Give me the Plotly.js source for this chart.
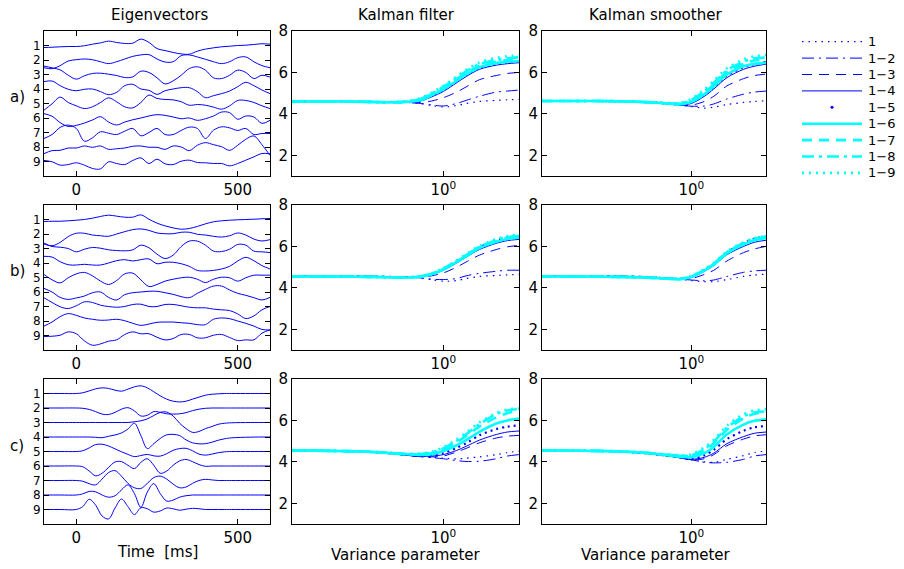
<!DOCTYPE html>
<html>
<head>
<meta charset="utf-8">
<script src="https://cdn.plot.ly/plotly-3.0.1.min.js"></script>
<style>html,body{margin:0;padding:0;background:#fff;}</style>
</head>
<body>
<div id="chart" style="width:904px;height:569px;"></div>
<script>
// ---------------- DATA ----------------
const panelTitles = ['Eigenvectors', 'Kalman filter', 'Kalman smoother'];
const rowLabels = ['a)', 'b)', 'c)'];
const evTickLabels = ['1','2','3','4','5','6','7','8','9'];
const seriesNames = ['1','1\u22122','1\u22123','1\u22124','1\u22125','1\u22126','1\u22127','1\u22128','1\u22129'];

// time axis (ms) for eigenvectors, rows a and b
const evTime = [-100,-75,-50,-25,0,25,50,75,100,125,150,175,200,225,250,275,300,325,350,375,400,425,450,475,500,525,550,575,600];
// time axis (ms) for eigenvectors, row c
const evTimeC = [-100,-50,0,20,40,60,80,100,120,140,160,180,200,220,240,260,280,300,320,340,360,380,400,420,440,460,480,540,600];

// eigenvector deviations from their baseline (units of trace spacing), row a
const evRowA = [
 [-0.14,-0.12,-0.09,-0.07,-0.07,-0.02,0.09,0.18,0.30,0.21,0.14,0.16,0.44,0.21,-0.21,-0.35,-0.48,-0.58,-0.60,-0.39,-0.25,-0.16,-0.09,-0.05,0,0.02,0.07,0.12,0.09],
 [-0.53,-0.60,-0.39,-0.07,0.02,0.07,0.02,-0.12,-0.25,-0.12,0.07,0.25,0.35,0.37,0.07,-0.14,-0.12,0.30,0.35,0.21,0.05,-0.12,-0.25,-0.12,0.16,0.21,-0.12,-0.39,-0.53],
 [0.58,0.46,0.32,-0.05,-0.32,-0.09,0.07,0.09,0.02,-0.07,-0.21,-0.16,0.23,0.14,-0.23,-0.65,-0.44,-0.05,0.41,0.53,0.30,-0.23,-0.28,-0.05,0.30,0.14,-0.28,-0.05,-0.18],
 [0.51,0.55,0.23,-0.02,-0.12,-0.02,0,-0.18,-0.39,-0.23,0.23,0.32,0,-0.09,-0.37,-0.12,0,0.09,0.09,-0.18,-0.60,-0.46,-0.32,-0.14,0.16,0.46,0.23,-0.07,-0.32],
 [-0.46,-0.02,0.44,0.07,-0.16,-0.35,-0.23,0.07,0.39,0.12,-0.23,-0.30,0.07,0.58,0.35,0.28,0.25,0.12,-0.12,-0.07,-0.12,-0.25,-0.39,-0.16,0.21,0.21,0.07,-0.16,-0.35],
 [0.30,0.12,-0.32,-0.58,-0.51,-0.35,-0.14,0.09,-0.28,-0.48,-0.28,-0.12,0,0.14,0.23,0.18,0.07,-0.05,0,-0.16,-0.05,0.14,0.41,0.37,-0.09,0.14,0.07,-0.37,-0.16],
 [-0.41,-0.14,0.35,0.51,0.28,-0.60,-0.37,0.05,-0.05,-0.14,0.09,0.28,-0.23,0,0.28,-0.14,-0.14,0.14,0.37,0.28,-0.41,0.16,0.39,0.32,0.14,0.28,-0.14,-0.07,-0.07],
 [-0.46,-0.25,-0.23,-0.07,-0.07,0.07,-0.02,0.07,-0.16,-0.12,-0.07,0.05,0.07,-0.02,-0.02,-0.16,0.07,0,-0.25,0.12,0.30,0.16,0.02,-0.23,0.12,0.53,0.76,0.16,-0.58],
 [0.07,-0.02,-0.25,-0.21,-0.09,-0.25,-0.48,-0.51,-0.02,-0.14,-0.21,0.07,0.25,-0.14,0.16,-0.16,-0.21,0.02,0.09,-0.07,-0.09,-0.14,-0.14,-0.30,-0.14,0.09,0.32,0.55,0.53]
];
// row b
const evRowB = [
 [-0.14,-0.12,-0.12,-0.09,-0.05,0,0.09,0.21,0.30,0.23,0.16,0.16,0.32,0.02,-0.25,-0.44,-0.58,-0.67,-0.62,-0.48,-0.30,-0.16,-0.09,-0.05,-0.02,0,0.02,0.05,0.07],
 [-0.69,-0.81,-0.58,-0.18,0.05,0.05,-0.07,-0.12,-0.16,0,0.16,0.30,0.35,0.25,0.07,0.02,0.02,0.12,0.12,-0.02,-0.07,-0.16,-0.21,-0.12,0.07,-0.07,-0.35,-0.48,-0.39],
 [0.37,0.14,0.09,0,-0.23,-0.05,0.07,0.02,-0.09,-0.14,-0.16,-0.09,0.23,0.05,-0.39,-0.69,-0.46,0.14,0.51,0.51,0.23,-0.18,-0.21,-0.05,0.28,0.23,-0.18,-0.23,-0.28],
 [0.46,0.41,0.09,-0.12,-0.14,-0.09,-0.14,-0.14,0,0.16,0.23,0.14,0.23,0.28,-0.05,0.05,0.05,-0.05,-0.23,-0.51,-0.55,-0.51,-0.41,-0.23,0.14,0.39,0.16,-0.18,-0.41],
 [0.21,-0.16,-0.37,-0.02,0.25,0.35,0.12,-0.25,-0.48,-0.21,0.25,0.30,-0.16,-0.62,-0.48,-0.25,-0.12,-0.02,0.02,-0.12,-0.35,-0.12,0.02,-0.02,-0.25,-0.02,0.16,0.16,0.16],
 [0.25,0,-0.37,-0.51,-0.41,-0.28,-0.05,0,-0.37,-0.55,-0.18,-0.05,0,0.05,0.05,-0.05,-0.16,-0.32,-0.39,-0.09,0.18,0.41,0.41,0.14,-0.09,-0.23,-0.39,-0.55,-0.37],
 [0.60,0.28,-0.02,-0.14,0.05,0.32,0.28,0.09,0,-0.05,0,0.14,0.16,0,0,0.14,0.14,0.05,-0.05,-0.09,-0.09,-0.18,-0.23,-0.28,-0.51,-0.83,-0.65,-0.23,0],
 [-0.35,-0.07,0.30,0.51,0.39,0.21,0.12,0.05,0.07,0.12,0.02,-0.16,-0.30,-0.21,-0.09,-0.07,-0.07,-0.12,-0.16,-0.25,-0.25,0.12,0.21,0.16,0,-0.16,-0.35,-0.58,-0.62],
 [-0.07,-0.05,0.02,0.25,0.12,-0.37,-0.67,-0.58,-0.39,-0.30,0.07,0.25,0.12,0.12,-0.12,-0.30,-0.21,0.07,0.07,-0.16,-0.16,0.02,0.07,-0.14,-0.35,-0.30,-0.30,0.16,0.39]
];
// row c
const evRowC = [
 [0,0,0,0.05,0.18,0.32,0.39,0.35,0.23,0.16,0.30,0.46,0.53,0.39,0.12,-0.16,-0.39,-0.53,-0.58,-0.53,-0.39,-0.25,-0.12,-0.05,-0.02,0,0,0,0],
 [0,0,0,-0.02,-0.10,-0.25,-0.42,-0.45,-0.30,-0.08,0.02,-0.20,-0.55,-0.50,-0.25,-0.30,-0.40,-0.42,-0.40,-0.32,-0.18,-0.08,-0.02,0,0,0,0,0,0],
 [0,0,0,0,0,0,0,0,0,0,0,0.05,0.12,0.25,0.48,0.70,0.72,0.45,-0.05,-0.42,-0.68,-0.62,-0.42,-0.28,-0.12,-0.05,-0.02,0,0],
 [0,0,0,0,0,-0.02,-0.05,0.05,0.14,0.28,0.55,0.95,0.10,-0.80,-0.46,-0.10,0.15,0.18,0.10,-0.20,-0.40,-0.47,-0.46,-0.36,-0.22,-0.12,-0.06,-0.01,0],
 [0,0,0,0.05,0.25,0.48,0.50,0.38,0.18,-0.02,-0.20,-0.35,-0.28,-0.20,-0.30,-0.32,-0.15,0.08,0.20,0.22,0.05,-0.18,-0.25,-0.18,-0.08,-0.02,0,0,0],
 [0,0,0,-0.05,-0.35,-0.68,-0.50,-0.10,0.28,0.30,0.05,-0.18,0.25,0.50,0.05,-0.50,-0.35,0.05,0.35,0.45,0.30,0.10,-0.02,0,0,0,0,0,0],
 [0,0,0,-0.05,-0.22,-0.30,0.10,0.55,0.68,0.30,-0.20,-0.50,-0.55,-0.20,0.20,0.30,0.10,-0.25,-0.50,-0.45,-0.20,0,0.08,0.04,0,0,0,0,0],
 [0,0,0,0.08,0.25,0.22,0,-0.15,-0.05,0.35,0.70,0.10,-0.85,0.20,0.78,0.10,-0.42,-0.35,-0.15,-0.05,0,0,0,0,0,0,0,0,0],
 [0,0,0,0.20,0.70,0.30,-0.45,-0.65,0.10,0.72,0.20,-0.35,0.12,0.05,-0.18,-0.10,0.10,0.05,-0.05,0.02,0.08,0.05,0,0,0,0,0,0,0]
];

// variance parameter grid
const varParam = [0.01,0.02,0.05,0.1,0.2,0.3,0.5,0.7,1,1.5,2,3,5,7,10];

// Kalman filter / smoother curves (series 1, 1-2, ..., 1-9)
const kfRowA = [
 [4.6,4.6,4.6,4.58,4.56,4.55,4.5,4.4,4.33,4.4,4.5,4.6,4.65,4.68,4.7],
 [4.6,4.6,4.6,4.58,4.56,4.55,4.5,4.43,4.38,4.5,4.65,4.85,5.05,5.1,5.15],
 [4.6,4.6,4.6,4.58,4.56,4.55,4.55,4.62,4.78,5.05,5.3,5.65,5.85,5.95,6.0],
 [4.6,4.6,4.6,4.58,4.56,4.56,4.62,4.82,5.08,5.5,5.8,6.15,6.35,6.42,6.47],
 [4.6,4.6,4.6,4.58,4.56,4.57,4.65,4.88,5.15,5.58,5.88,6.22,6.42,6.5,6.55],
 [4.6,4.6,4.6,4.58,4.56,4.57,4.66,4.9,5.18,5.6,5.9,6.25,6.45,6.52,6.55],
 [4.6,4.6,4.6,4.58,4.56,4.58,4.7,4.95,5.25,5.68,5.98,6.32,6.52,6.6,6.65],
 [4.6,4.6,4.6,4.58,4.56,4.58,4.72,4.98,5.3,5.73,6.05,6.4,6.6,6.68,6.73],
 [4.6,4.6,4.6,4.58,4.57,4.6,4.75,5.02,5.35,5.8,6.12,6.48,6.7,6.78,6.85]
];
const ksRowA = [
 [4.62,4.62,4.62,4.61,4.58,4.55,4.48,4.42,4.35,4.28,4.32,4.45,4.55,4.6,4.63],
 [4.62,4.62,4.62,4.61,4.58,4.55,4.48,4.42,4.37,4.38,4.48,4.72,4.95,5.05,5.1],
 [4.62,4.62,4.62,4.61,4.58,4.55,4.48,4.42,4.42,4.6,4.85,5.35,5.7,5.85,5.92],
 [4.62,4.62,4.62,4.61,4.58,4.55,4.48,4.43,4.5,4.85,5.2,5.75,6.15,6.3,6.4],
 [4.62,4.62,4.62,4.61,4.58,4.55,4.49,4.45,4.55,4.92,5.3,5.85,6.25,6.4,6.5],
 [4.62,4.62,4.62,4.61,4.58,4.55,4.5,4.46,4.57,4.95,5.33,5.9,6.3,6.42,6.47],
 [4.62,4.62,4.62,4.61,4.58,4.55,4.5,4.48,4.62,5.02,5.42,6.0,6.42,6.58,6.62],
 [4.62,4.62,4.62,4.61,4.58,4.56,4.51,4.5,4.67,5.1,5.5,6.1,6.52,6.68,6.72],
 [4.62,4.62,4.62,4.61,4.58,4.56,4.52,4.52,4.72,5.18,5.6,6.2,6.62,6.78,6.84]
];
const kfRowB = [
 [4.56,4.56,4.56,4.56,4.55,4.53,4.48,4.4,4.32,4.35,4.45,4.55,4.6,4.63,4.65],
 [4.56,4.57,4.58,4.57,4.55,4.53,4.48,4.42,4.4,4.45,4.58,4.7,4.8,4.85,4.85],
 [4.56,4.56,4.56,4.55,4.53,4.52,4.52,4.58,4.72,5.0,5.25,5.58,5.85,5.98,6.05],
 [4.56,4.56,4.55,4.54,4.52,4.51,4.54,4.65,4.85,5.2,5.48,5.85,6.15,6.28,6.34],
 [4.56,4.56,4.55,4.54,4.52,4.51,4.55,4.67,4.9,5.28,5.55,5.95,6.28,6.43,6.5],
 [4.55,4.55,4.54,4.53,4.51,4.5,4.54,4.66,4.88,5.25,5.52,5.92,6.22,6.36,6.42],
 [4.55,4.55,4.54,4.53,4.51,4.5,4.55,4.67,4.9,5.27,5.55,5.95,6.25,6.4,6.46],
 [4.55,4.55,4.54,4.53,4.51,4.5,4.55,4.68,4.92,5.3,5.58,5.98,6.3,6.45,6.5],
 [4.55,4.55,4.54,4.53,4.51,4.5,4.56,4.7,4.95,5.33,5.62,6.02,6.35,6.5,6.55]
];
const ksRowB = [
 [4.56,4.56,4.56,4.56,4.55,4.53,4.48,4.42,4.35,4.3,4.3,4.4,4.55,4.62,4.66],
 [4.56,4.57,4.58,4.58,4.56,4.53,4.48,4.42,4.38,4.34,4.38,4.55,4.75,4.82,4.85],
 [4.56,4.56,4.56,4.55,4.53,4.5,4.46,4.42,4.45,4.65,4.85,5.3,5.7,5.88,6.0],
 [4.56,4.56,4.55,4.54,4.52,4.49,4.45,4.42,4.5,4.8,5.08,5.6,6.0,6.2,6.3],
 [4.56,4.56,4.55,4.54,4.52,4.49,4.45,4.43,4.53,4.86,5.15,5.7,6.15,6.38,6.48],
 [4.55,4.55,4.54,4.53,4.51,4.48,4.44,4.42,4.52,4.84,5.12,5.66,6.1,6.3,6.4],
 [4.55,4.55,4.54,4.53,4.51,4.48,4.44,4.42,4.53,4.86,5.15,5.7,6.13,6.33,6.43],
 [4.55,4.55,4.54,4.53,4.51,4.48,4.44,4.43,4.55,4.88,5.18,5.72,6.17,6.37,6.47],
 [4.55,4.55,4.54,4.53,4.51,4.48,4.45,4.44,4.57,4.9,5.2,5.76,6.2,6.4,6.5]
];
const kfRowC = [
 [4.55,4.54,4.52,4.48,4.4,4.33,4.26,4.22,4.18,4.14,4.18,4.24,4.35,4.45,4.52],
 [4.55,4.54,4.52,4.48,4.4,4.33,4.25,4.2,4.15,4.06,4.02,4.03,4.15,4.28,4.35],
 [4.55,4.54,4.52,4.48,4.4,4.33,4.26,4.24,4.28,4.48,4.65,4.92,5.15,5.24,5.28],
 [4.55,4.54,4.52,4.48,4.4,4.33,4.27,4.28,4.35,4.55,4.75,5.05,5.32,5.44,5.49],
 [4.55,4.54,4.52,4.48,4.41,4.35,4.3,4.32,4.42,4.68,4.9,5.28,5.58,5.7,5.76],
 [4.55,4.54,4.52,4.49,4.42,4.37,4.33,4.37,4.52,4.8,5.05,5.45,5.85,6.0,6.09],
 [4.55,4.54,4.52,4.49,4.43,4.38,4.36,4.42,4.6,4.95,5.25,5.7,6.15,6.35,6.46],
 [4.55,4.54,4.52,4.49,4.43,4.39,4.38,4.45,4.65,5.02,5.33,5.82,6.3,6.48,6.55],
 [4.55,4.54,4.52,4.5,4.44,4.4,4.4,4.48,4.7,5.08,5.4,5.9,6.35,6.52,6.58]
];
const ksRowC = [
 [4.55,4.54,4.53,4.5,4.44,4.38,4.28,4.2,4.1,4.0,3.98,4.12,4.3,4.45,4.52],
 [4.55,4.54,4.53,4.5,4.44,4.38,4.28,4.2,4.1,3.98,3.95,3.98,4.12,4.28,4.35],
 [4.55,4.54,4.53,4.5,4.44,4.38,4.28,4.2,4.1,4.15,4.35,4.78,5.1,5.25,5.31],
 [4.55,4.54,4.53,4.5,4.44,4.38,4.28,4.2,4.12,4.22,4.42,4.88,5.22,5.38,5.44],
 [4.55,4.54,4.53,4.5,4.44,4.38,4.29,4.22,4.16,4.32,4.58,5.1,5.5,5.67,5.73],
 [4.55,4.54,4.53,4.5,4.45,4.4,4.31,4.25,4.22,4.42,4.72,5.33,5.8,5.98,6.05],
 [4.55,4.54,4.53,4.51,4.46,4.41,4.33,4.28,4.28,4.55,4.9,5.55,6.1,6.32,6.41],
 [4.55,4.54,4.53,4.51,4.46,4.41,4.34,4.3,4.32,4.62,4.98,5.65,6.2,6.38,6.44],
 [4.55,4.54,4.53,4.51,4.47,4.42,4.35,4.32,4.36,4.7,5.06,5.75,6.3,6.48,6.54]
];

// ---------------- STYLE ----------------
const W = 904, H = 569;
const BLUE = 'rgb(0,0,255)', CYAN = 'rgb(0,255,255)';
const seriesColor = [BLUE,BLUE,BLUE,BLUE,BLUE,CYAN,CYAN,CYAN,CYAN];
const seriesDash = ['1.5px,5px','12px,5px,2px,5px','10px,7px','solid','2px,4px','solid','10px,7px','12px,5px,3px,5px','2px,5px'];
const seriesWidth = [1.2,1,1,1,2.2,2.6,2.6,2.6,2.6];
const colPx = [[44,270],[292,519],[542,766]];
const rowPx = [[31,176],[205,350],[379,524]];
const FONT = 'DejaVu Sans, Verdana, sans-serif';
const FS = 15;
const EV_TICK_FS = 12;
const LEG_FS = 13;

function fx(p){return p/W;}
function fy(p){return 1 - p/H;}

const evRows = [[evTime, evRowA],[evTime, evRowB],[evTimeC, evRowC]];
const kalRows = [[kfRowA, ksRowA],[kfRowB, ksRowB],[kfRowC, ksRowC]];

const traces = [];
const layout = {
  width: W, height: H,
  margin: {l:0, r:0, t:0, b:0},
  paper_bgcolor: 'white', plot_bgcolor: 'white',
  showlegend: false,
  font: {family: FONT, size: FS, color: 'black'},
  annotations: [], shapes: []
};

function axKey(prefix, idx){ return prefix + (idx === 1 ? '' : idx); }

for (let r = 0; r < 3; r++) {
  for (let c = 0; c < 3; c++) {
    const idx = r*3 + c + 1;
    const xa = axKey('xaxis', idx), ya = axKey('yaxis', idx);
    const xr = 'x' + (idx === 1 ? '' : idx), yr = 'y' + (idx === 1 ? '' : idx);
    const common = {
      showline: true, linecolor: 'black', linewidth: 1, mirror: 'ticks',
      ticks: 'inside', ticklen: 5, tickcolor: 'black', tickwidth: 1,
      showgrid: false, zeroline: false, fixedrange: true,
      tickfont: {family: FONT, size: FS, color: 'black'}
    };
    if (c === 0) {
      layout[xa] = Object.assign({}, common, {
        domain: [fx(colPx[c][0]), fx(colPx[c][1])], anchor: yr,
        range: [-100, 600], tickvals: [0, 500], ticktext: ['0','500']
      });
      layout[ya] = Object.assign({}, common, {
        domain: [fy(rowPx[r][1]), fy(rowPx[r][0])], anchor: xr,
        range: [-10, 0], tickvals: [-1,-2,-3,-4,-5,-6,-7,-8,-9], ticktext: evTickLabels,
        tickfont: {family: FONT, size: EV_TICK_FS, color: 'black'}
      });
      const t = evRows[r][0], rows = evRows[r][1];
      rows.forEach((dev, k) => {
        traces.push({
          x: t, y: dev.map(v => -(k+1) + v),
          xaxis: xr, yaxis: yr, mode: 'lines', hoverinfo: 'skip',
          line: {color: BLUE, width: 1, shape: 'spline', smoothing: 1}
        });
      });
    } else {
      layout[xa] = Object.assign({}, common, {
        domain: [fx(colPx[c][0]), fx(colPx[c][1])], anchor: yr,
        type: 'log', range: [-2, 1], tickvals: [1], ticktext: ['10<sup>0</sup>']
      });
      layout[ya] = Object.assign({}, common, {
        domain: [fy(rowPx[r][1]), fy(rowPx[r][0])], anchor: xr,
        range: [1, 8], tickvals: [2,4,6,8], ticktext: ['2','4','6','8']
      });
      const data = kalRows[r][c-1];
      data.forEach((vals, s) => {
        traces.push({
          x: varParam, y: vals, name: seriesNames[s],
          xaxis: xr, yaxis: yr, mode: 'lines', hoverinfo: 'skip',
          line: {color: seriesColor[s], width: seriesWidth[s], dash: seriesDash[s], shape: 'spline', smoothing: 0.8}
        });
      });
    }
  }
}

function addText(text, xp, yp, anchor, size) {
  layout.annotations.push({text: text, x: fx(xp), y: fy(yp), xref: 'paper', yref: 'paper',
    xanchor: anchor || 'center', yanchor: 'middle', showarrow: false, borderpad: 0,
    font: {family: FONT, size: size || FS, color: 'black'}});
}

// titles
const titleX = [159, 406, 655];
panelTitles.forEach((t, i) => addText(t, titleX[i], 15));
// row labels
const rowLabelY = [97, 271, 446];
rowLabels.forEach((t, i) => addText(t, 17, rowLabelY[i]));
// x-axis titles (bottom row)
addText('Time  [ms]', 157, 552);
[406, 656].forEach(xp => addText('Variance parameter', xp, 555));

// legend (drawn manually to match sample lengths)
seriesNames.forEach((nm, i) => {
  const yp = 41.7 + 16.4 * i;
  if (i === 4) {
    layout.shapes.push({type: 'circle', xref: 'paper', yref: 'paper',
      x0: fx(830.5), x1: fx(833.5), y0: fy(yp + 1.5), y1: fy(yp - 1.5),
      fillcolor: BLUE, line: {color: BLUE, width: 0}});
  } else {
    layout.shapes.push({type: 'line', xref: 'paper', yref: 'paper',
      x0: fx(802), x1: fx(862), y0: fy(yp), y1: fy(yp),
      line: {color: seriesColor[i], width: seriesWidth[i], dash: seriesDash[i]}});
  }
  addText(nm, 867, yp, 'left', LEG_FS);
});

Plotly.newPlot('chart', traces, layout, {staticPlot: true, displayModeBar: false});
</script>
</body>
</html>
